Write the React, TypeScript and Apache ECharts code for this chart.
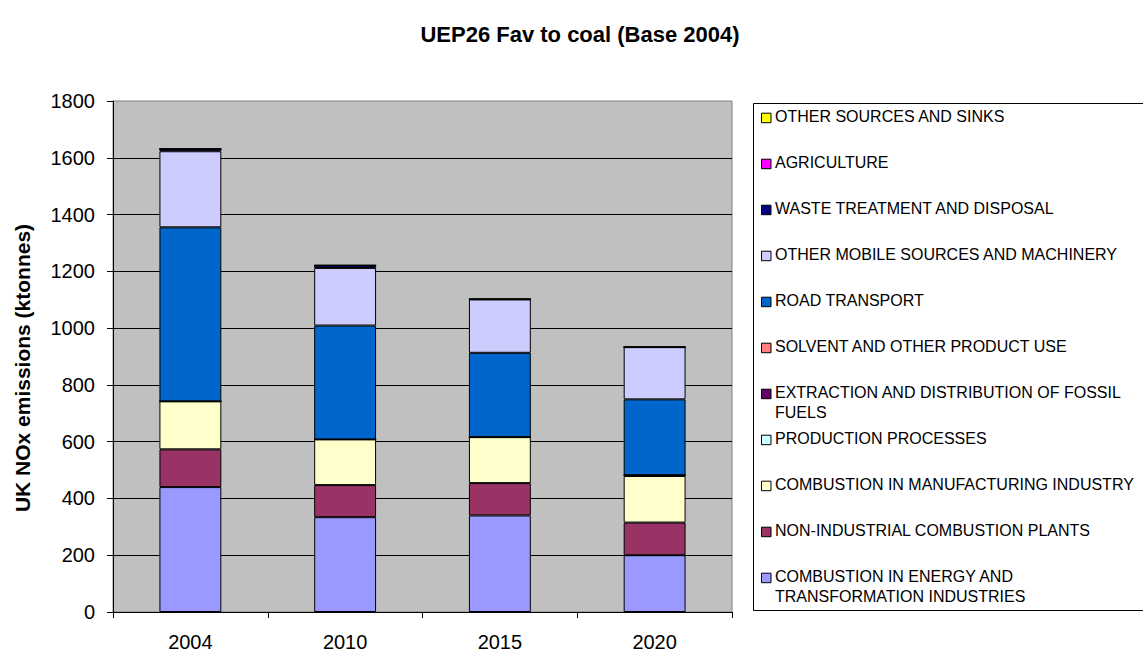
import React, { useEffect, useRef } from "react";
import * as echarts from "echarts";

const years = ["2004", "2010", "2015", "2020"];

const seriesNames = [
  "COMBUSTION IN ENERGY AND\nTRANSFORMATION INDUSTRIES",
  "NON-INDUSTRIAL COMBUSTION PLANTS",
  "COMBUSTION IN MANUFACTURING INDUSTRY",
  "PRODUCTION PROCESSES",
  "EXTRACTION AND DISTRIBUTION OF FOSSIL\nFUELS",
  "SOLVENT AND OTHER PRODUCT USE",
  "ROAD TRANSPORT",
  "OTHER MOBILE SOURCES AND MACHINERY",
  "WASTE TREATMENT AND DISPOSAL",
  "AGRICULTURE",
  "OTHER SOURCES AND SINKS",
];

const seriesColors = [
  "#9999FF",
  "#993366",
  "#FFFFCC",
  "#CCFFFF",
  "#660066",
  "#FF8080",
  "#0066CC",
  "#CCCCFF",
  "#000080",
  "#FF00FF",
  "#FFFF00",
];

const energy = [440, 334, 340, 200];
const nonIndustrial = [133, 113, 114, 115];
const manufacturing = [169, 161, 162, 164];
const production = [0, 0, 0, 3];
const extraction = [0, 0, 0, 0];
const solvent = [0, 0, 0, 0];
const road = [613, 401, 297, 267];
const otherMobile = [268, 203, 188, 184];
const waste = [8, 9, 1, 0];
const agriculture = [0, 0, 0, 0];
const otherSources = [0, 0, 0, 0];

const seriesValues = [
  energy,
  nonIndustrial,
  manufacturing,
  production,
  extraction,
  solvent,
  road,
  otherMobile,
  waste,
  agriculture,
  otherSources,
];

const yTicks = { min: 0, max: 1800, interval: 200 };

const FONT = "'Liberation Sans', Arial, sans-serif";

export default function App() {
  const ref = useRef<HTMLDivElement>(null);

  useEffect(() => {
    document.body.style.margin = "0";
    if (!ref.current) return;
    const chart = echarts.init(ref.current, null, { renderer: "svg" });

    const legendLeft = 753.5;
    const legendTop = 103.5;
    const firstCenter = 116.7;
    const step = 46;
    const legendItems: any[] = [];
    const order = seriesNames.map((_, i) => i).reverse();
    order.forEach((idx, k) => {
      const cy = firstCenter + step * k;
      legendItems.push({
        type: "rect",
        shape: { x: 761.5, y: cy - 3.5, width: 9.5, height: 9.5 },
        style: { fill: seriesColors[idx], stroke: "#000", lineWidth: 1 },
        z: 10,
      });
      legendItems.push({
        type: "text",
        x: 775,
        y: cy - 10,
        style: {
          text: seriesNames[idx],
          font: `16px ${FONT}`,
          fill: "#000",
          lineHeight: 20,
          verticalAlign: "top",
          align: "left",
        },
        z: 10,
      });
    });

    chart.setOption({
      animation: false,
      backgroundColor: "#FFFFFF",
      title: {
        text: "UEP26 Fav to coal (Base 2004)",
        left: 575,
        top: 18,
        textAlign: "center",
        textStyle: {
          fontFamily: FONT,
          fontSize: 22,
          fontWeight: "bold",
          color: "#000",
        },
      },
      grid: {
        left: 113,
        right: 411,
        top: 101,
        bottom: 39,
        show: true,
        backgroundColor: "#C0C0C0",
        borderColor: "#808080",
        borderWidth: 1,
      },
      xAxis: {
        type: "category",
        data: years,
        axisLine: { show: true, lineStyle: { color: "#000", width: 1 } },
        axisTick: { show: true, length: 6, lineStyle: { color: "#000" } },
        axisLabel: {
          fontFamily: FONT,
          fontSize: 20,
          color: "#000",
          margin: 20,
        },
        splitLine: { show: false },
      },
      yAxis: {
        type: "value",
        min: yTicks.min,
        max: yTicks.max,
        interval: yTicks.interval,
        axisLine: { show: true, lineStyle: { color: "#000", width: 1 } },
        axisTick: { show: true, length: 6, lineStyle: { color: "#000" } },
        axisLabel: {
          fontFamily: FONT,
          fontSize: 20,
          color: "#000",
          margin: 18,
          formatter: (v: number) => String(v),
        },
        splitLine: {
          show: true,
          showMaxLine: false,
          lineStyle: { color: "#000", width: 1 },
        },
      },
      graphic: [
        {
          type: "text",
          x: 22.5,
          y: 368,
          rotation: Math.PI / 2,
          style: {
            text: "UK NOx emissions (ktonnes)",
            font: `bold 21px ${FONT}`,
            fill: "#000",
            align: "center",
            verticalAlign: "middle",
          },
        },
        {
          type: "rect",
          shape: { x: legendLeft, y: legendTop, width: 500, height: 507 },
          style: { fill: "#FFFFFF", stroke: "#000", lineWidth: 1 },
          z: 5,
        },
        ...legendItems,
      ],
      series: seriesNames.map((name, i) => ({
        name,
        type: "bar",
        stack: "total",
        barWidth: "40%",
        data: seriesValues[i],
        itemStyle: {
          color: seriesColors[i],
          borderColor: "#000",
          borderWidth: 1,
        },
      })),
    });

    return () => {
      chart.dispose();
    };
  }, []);

  return <div ref={ref} style={{ width: 1143, height: 652 }} />;
}
